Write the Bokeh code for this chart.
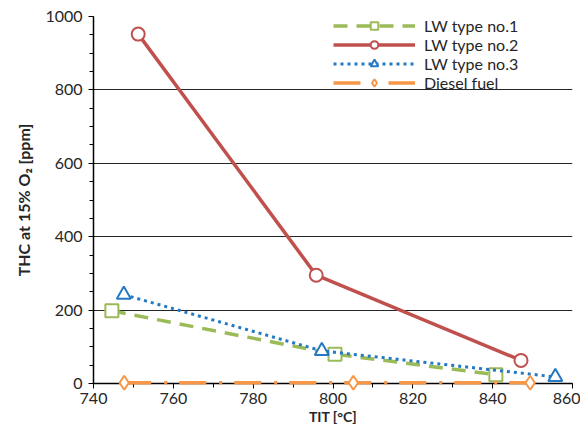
from bokeh.plotting import figure
from bokeh.models import Legend, LegendItem, FixedTicker
from bokeh.embed import file_html
from bokeh.resources import INLINE

# data
lw1_x = [744.6, 800.5, 840.8]
lw1_y = [198, 80, 24]
lw2_x = [751.2, 795.8, 847.1]
lw2_y = [952, 295, 63]
lw3_x = [747.6, 797.2, 855.7]
lw3_y = [242, 89, 18]
dsl_x = [747.7, 805.1, 849.4]
dsl_y = [2, 2, 2]

x_ticks = [740, 760, 780, 800, 820, 840, 860]
y_ticks = [0, 200, 400, 600, 800, 1000]

FONT = "Lato"

p = figure(frame_width=479, frame_height=367, x_range=(740, 860), y_range=(0, 1000),
           output_backend="svg", toolbar_location=None,
           min_border_left=93, min_border_top=16, min_border_right=8, min_border_bottom=40)
p.outline_line_color = None
p.background_fill_color = "white"
p.xgrid.grid_line_color = None
p.ygrid.grid_line_color = "#262626"
p.ygrid.grid_line_width = 1
p.xaxis.ticker = FixedTicker(ticks=x_ticks, minor_ticks=list(range(740, 861, 10)))
p.yaxis.ticker = FixedTicker(ticks=y_ticks, minor_ticks=list(range(0, 1001, 50)))
for ax in (p.xaxis, p.yaxis):
    ax.axis_line_color = "black"
    ax.axis_line_width = 1.5
    ax.major_tick_line_color = "black"
    ax.minor_tick_line_color = "black"
    ax.major_tick_out = 5
    ax.major_tick_in = 0
    ax.minor_tick_out = 4
    ax.minor_tick_in = 0
    ax.major_label_text_font = FONT
    ax.major_label_text_font_size = "16px"
    ax.major_label_text_color = "#262626"
    ax.axis_label_text_font = FONT
    ax.axis_label_text_font_style = "bold"
    ax.axis_label_text_color = "#262626"
p.xaxis.axis_label_text_font_size = "14px"
p.yaxis.axis_label_text_font_size = "16px"
p.xaxis.axis_label = "TIT [°C]"
p.yaxis.axis_label = "THC at 15% O₂ [ppm]"
p.xaxis.axis_label_standoff = 1
p.yaxis.axis_label_standoff = 9
p.xaxis.major_label_standoff = 4
p.yaxis.major_label_standoff = 6

green = "#9BBB59"
red = "#C0504D"
blue = "#2479C2"
orange = "#F79646"

l1 = p.line(lw1_x, lw1_y, line_color=green, line_width=3.5, line_dash="14 9")
m1 = p.scatter(lw1_x, lw1_y, marker="square", size=13, line_color=green, line_width=2, fill_color="white")
l2 = p.line(lw2_x, lw2_y, line_color=red, line_width=3.5)
m2 = p.scatter(lw2_x, lw2_y, marker="circle", size=13, line_color=red, line_width=2, fill_color="white")
l3 = p.line(lw3_x, lw3_y, line_color=blue, line_width=3, line_dash="3 4")
m3 = p.scatter(lw3_x, lw3_y, marker="triangle", size=14, line_color=blue, line_width=2, fill_color="white")
l4 = p.line(dsl_x, dsl_y, line_color=orange, line_width=3.5, line_dash="27 13 3 12", level="overlay")
m4 = p.scatter(dsl_x, dsl_y, marker="diamond", size=14, line_color=orange, line_width=2,
               fill_color="white", level="overlay")

legend = Legend(items=[
    LegendItem(label="LW type no.1", renderers=[l1, m1]),
    LegendItem(label="LW type no.2", renderers=[l2, m2]),
    LegendItem(label="LW type no.3", renderers=[l3, m3]),
    LegendItem(label="Diesel fuel", renderers=[l4, m4]),
], location=(240, 291))
legend.margin = 0
legend.padding = 0
legend.spacing = 0
legend.glyph_width = 82
legend.glyph_height = 19
legend.label_height = 19
legend.label_width = 120
legend.label_standoff = 9
legend.label_text_font = FONT
legend.label_text_font_size = "16px"
legend.label_text_color = "#262626"
legend.border_line_color = None
legend.background_fill_alpha = 0
p.add_layout(legend)

open("out.html", "w").write(file_html(p, INLINE))
